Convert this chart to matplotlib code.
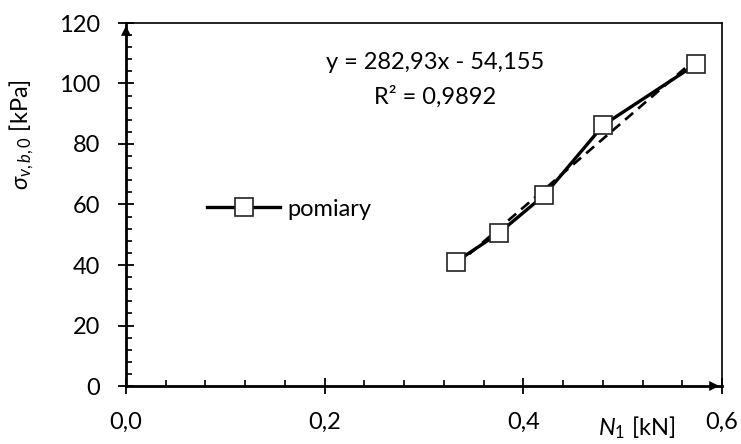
import numpy as np
import matplotlib.pyplot as plt
from matplotlib.ticker import MultipleLocator, FuncFormatter

# measured points
N1 = [0.3324, 0.3752, 0.4211, 0.4807, 0.5739]
sigma = [41.1, 50.5, 63.1, 86.3, 106.4]

# linear trend
slope, intercept = 282.93, -54.155
r2 = 0.9892

xticks = [0.0, 0.2, 0.4, 0.6]
yticks = [0, 20, 40, 60, 80, 100, 120]

plt.rcParams['font.family'] = ['Lato', 'DejaVu Sans']
plt.rcParams['mathtext.fontset'] = 'custom'
plt.rcParams['mathtext.it'] = 'Lato:italic'
plt.rcParams['mathtext.rm'] = 'Lato'

W, H = 741, 444
fs = 17

fig = plt.figure(figsize=(W / 100, H / 100), dpi=100)
ax = fig.add_axes([126 / W, 1 - 386 / H, 596 / W, 363 / H])

xt = np.array([N1[0], N1[-1]])
ax.plot(xt, slope * xt + intercept, ls=(0, (4, 2.5)), color='black', lw=1.9, zorder=2)
ax.plot(N1, sigma, '-s', color='black', lw=2.4, ms=13, mfc='white', mec='#222222',
        mew=1.2, label='pomiary', zorder=3)

ax.set_xlim(0, 0.6)
ax.set_ylim(0, 120)
ax.set_xticks(xticks)
ax.set_yticks(yticks)
ax.xaxis.set_minor_locator(MultipleLocator(0.04))
ax.yaxis.set_minor_locator(MultipleLocator(4))
ax.xaxis.set_major_formatter(FuncFormatter(lambda v, p: f"{v:.1f}".replace('.', ',')))
ax.tick_params(which='major', direction='inout', length=11, width=1.3, labelsize=fs)
ax.tick_params(which='minor', direction='in', length=4.5, width=1.2)
ax.tick_params(axis='y', which='major', pad=13)
ax.tick_params(axis='x', which='major', pad=13)

for side in ['left', 'bottom']:
    ax.spines[side].set_linewidth(2)
for side in ['top', 'right']:
    ax.spines[side].set_linewidth(1.2)

# arrow heads at axis ends
arrow = dict(arrowstyle='-|>', color='black', lw=0, mutation_scale=18)
ax.annotate('', xy=(0, 120), xytext=(0, 112), arrowprops=arrow, annotation_clip=False)
ax.annotate('', xy=(0.6, 0), xytext=(0.58, 0), arrowprops=arrow, annotation_clip=False)

fig.text(22 / W, 1 - 135 / H, r'$\sigma_{v,b,\mathit{0}}$ [kPa]', fontsize=fs, rotation=90,
         ha='center', va='center')
fig.text(675 / W, 3 / H, r'$N_\mathit{1}$ [kN]', fontsize=fs, ha='right', va='bottom')

ax.text(0.311, 106.8, f"y = {slope:.2f}x - {-intercept:.3f}".replace('.', ','),
        fontsize=fs, ha='center', va='center')
ax.text(0.311, 95.5, f"R² = {r2:.4f}".replace('.', ','),
        fontsize=fs, ha='center', va='center')

ax.legend(loc='center left', bbox_to_anchor=(207 / W, 1 - 209 / H),
          bbox_transform=fig.transFigure, frameon=False, fontsize=fs,
          borderpad=0, borderaxespad=0, handlelength=3.1, handletextpad=0.3)

fig.savefig('out.png', dpi=100)
